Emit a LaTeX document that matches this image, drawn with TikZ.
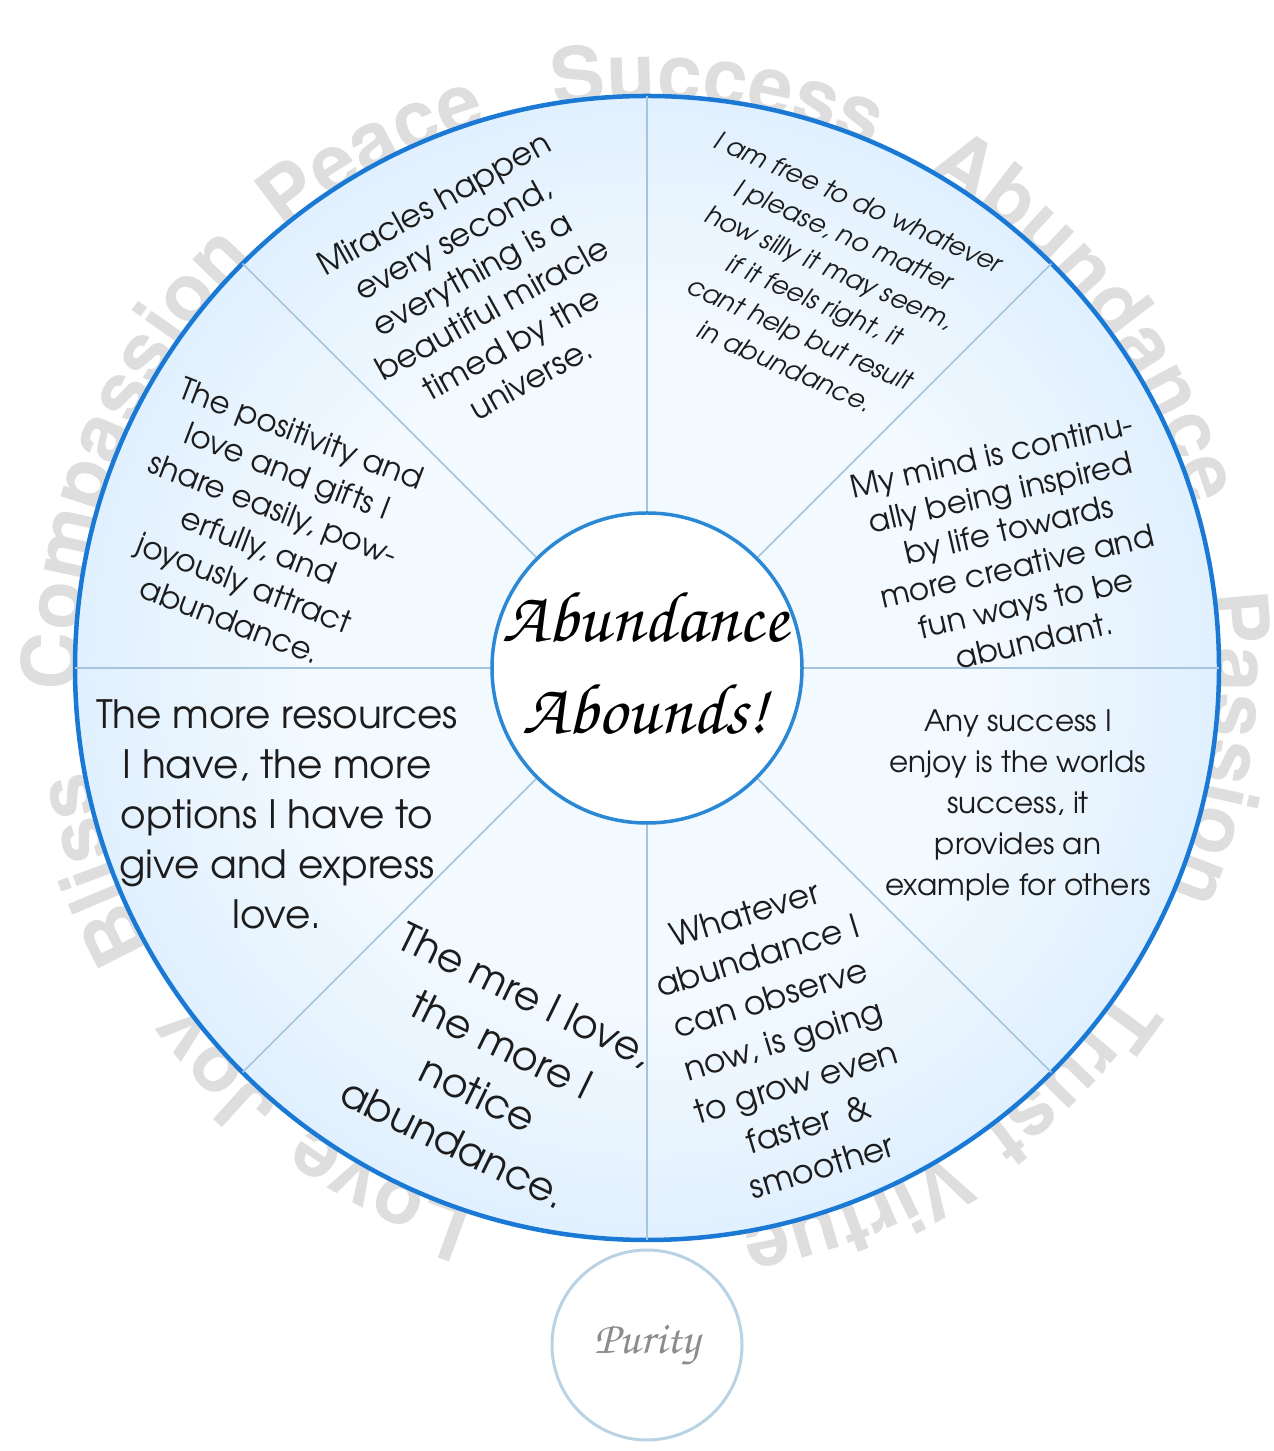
\documentclass[tikz,border=0pt]{standalone}
\usepackage{fontspec}
\setmainfont{TeX Gyre Adventor}
\newfontfamily\handfont{TeX Gyre Chorus}
\newfontfamily\wordfont{TeX Gyre Heros}
\usetikzlibrary{decorations.text}

\definecolor{rimblue}{HTML}{1A79D4}
\definecolor{hubblue}{HTML}{2A88D4}
\definecolor{spokeblue}{HTML}{A6C5DC}
\definecolor{paleblue}{HTML}{F2F9FF}
\definecolor{midblue}{HTML}{CBE5FC}
\definecolor{deepblue}{HTML}{8EC6F5}
\definecolor{ghost}{HTML}{DEDEDE}
\definecolor{puritybrd}{HTML}{BAD3E4}
\definecolor{puritytxt}{HTML}{8C8C8C}
\definecolor{ink}{HTML}{1C1C1C}

\pgfdeclareradialshading{wheelshade}{\pgfpoint{0bp}{0bp}}{%
  color(0bp)=(paleblue); color(15bp)=(paleblue); color(37bp)=(midblue);
  color(50bp)=(deepblue); color(72bp)=(deepblue)}

% one grey word set on an arc round the wheel, read clockwise
\newcommand\ringword[2]{%
  \path[decorate, decoration={text along path, text align=center,
      text={|\wordfont\bfseries\fontsize{80}{80}\selectfont\color{ghost}|#2}}]
    (C) ++(#1+70:567pt) arc[start angle=#1+70, end angle=#1-70, radius=567pt];}

\begin{document}
\begin{tikzpicture}[x=1pt, y=1pt,
  blurb/.style={align=center, text=ink, inner sep=0pt},
  spoke/.style={draw=spokeblue, line width=1.6pt}]
\useasboundingbox (0,0) rectangle (1274,1451);
\fill[white] (0,0) rectangle (1274,1451);
\coordinate (C) at (647,783);

% virtues round the wheel
\ringword{83}{Success}
\ringword{118}{Peace}
\ringword{158}{Compassion}
\ringword{200}{Bliss}
\ringword{223}{Joy}
\ringword{243}{Love}
\ringword{-69}{Virtue}
\ringword{-44}{Trust}
\ringword{-8}{Passion}
\ringword{38.5}{Abundance}

% the wheel
\node[circle, minimum size=1144pt, inner sep=0pt, outer sep=0pt,
      shade, shading=wheelshade, draw=rimblue, line width=4.5pt] (rim) at (C) {};
\node[circle, minimum size=310pt, inner sep=0pt, outer sep=0pt] (hubmark) at (C) {};
\foreach \a in {0,45,...,315}
  \draw[spoke] (hubmark.\a) -- (rim.\a);
\node[circle, minimum size=310pt, inner sep=0pt, outer sep=0pt,
      fill=white, draw=hubblue, line width=3.5pt] (hub) at (C) {};
\node[font=\handfont\fontsize{72}{92}\selectfont, align=center, text=black]
  (motto) at (645,787) {Abundance\\Abounds!};

% affirmations, one per spoke gap
\node[blurb, rotate=29, font=\fontsize{32}{40}\selectfont] (miracles) at (482,1160)
  {Miracles happen\\every second,\\everything is a\\beautiful miracle\\timed by the\\universe.};
\node[blurb, rotate=-24, font=\itshape\fontsize{26}{36}\selectfont] (free) at (822,1167)
  {I am free to do whatever\\I please, no matter\\how silly it may seem,\\if it feels right, it\\cant help but result\\in abundance.};
\node[blurb, rotate=-21, font=\fontsize{31}{40}\selectfont] (positivity) at (266,924)
  {The positivity and\\love and gifts I\\share easily, pow-\\erfully, and\\joyously attract\\abundance.};
\node[blurb, rotate=13, font=\fontsize{31}{38}\selectfont] (mind) at (1013,903)
  {My mind is continu-\\ally being inspired\\by life towards\\more creative and\\fun ways to be\\abundant.};
\node[blurb, font=\fontsize{39}{50}\selectfont] (resources) at (277,637)
  {The more resources\\I have, the more\\options I have to\\give and express\\love.};
\node[blurb, font=\fontsize{29.5}{41}\selectfont] (success) at (1018,646)
  {Any success I\\enjoy is the worlds\\success, it\\provides an\\example for others};
\node[blurb, rotate=-26, font=\fontsize{40}{55}\selectfont] (love) at (490,382)
  {The mre I love,\\the more I\\notice\\abundance.};
\node[blurb, rotate=17, font=\fontsize{33}{44}\selectfont] (grow) at (783,411)
  {Whatever\\abundance I\\can observe\\now, is going\\to grow even\\faster\enspace \&\\smoother};

% the small circle below
\node[circle, minimum size=190pt, inner sep=0pt, draw=puritybrd, line width=3pt,
      fill=white, font=\handfont\fontsize{46}{46}\selectfont, text=puritytxt]
  (purity) at (647,106) {Purity};
\end{tikzpicture}
\end{document}
